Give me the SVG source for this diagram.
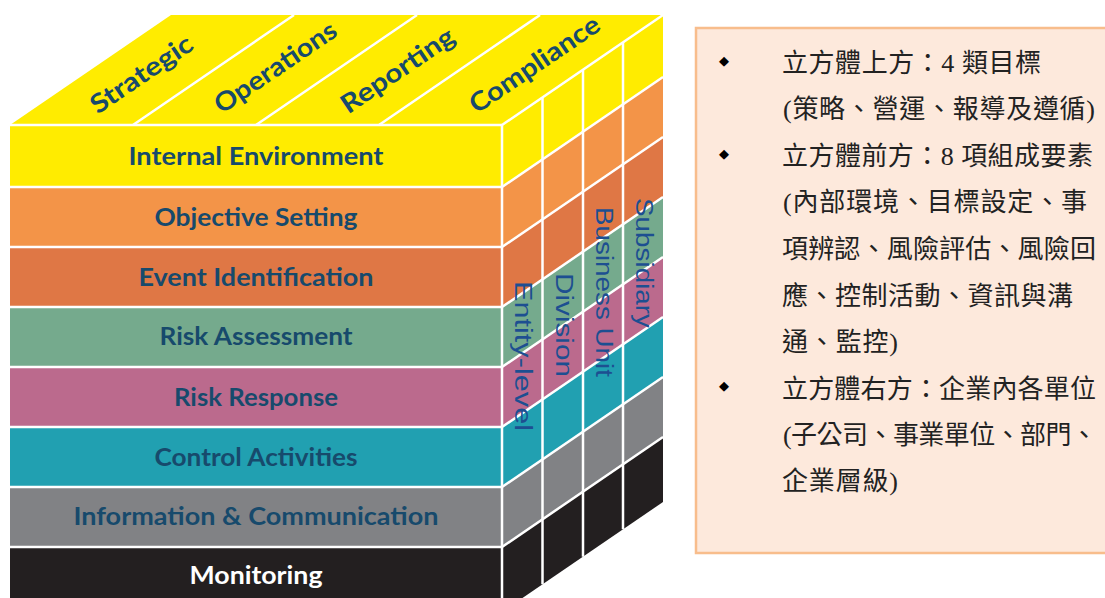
<svg xmlns="http://www.w3.org/2000/svg" width="1105" height="598" viewBox="0 0 1105 598">
<defs>
<style>
.sep{stroke:#ffffff;stroke-width:2.5;fill:none}
.l0{fill:#FFEC00}.l1{fill:#F39448}.l2{fill:#DF7745}.l3{fill:#75AA8D}
.l4{fill:#BB6A8D}.l5{fill:#21A0B1}.l6{fill:#818285}.l7{fill:#231F20}
.ft{font-family:Lato,"Open Sans",sans-serif;font-weight:bold;font-size:25px;fill:#174A6C;text-anchor:middle}
.tt{font-family:Lato,"Open Sans",sans-serif;font-weight:bold;font-size:26px;fill:#174A6C;text-anchor:middle}
.rt{font-family:"Liberation Sans",Arial,sans-serif;font-size:23px;fill:#1D4F91;text-anchor:middle}
.cj{font-family:"Liberation Serif","Noto Sans CJK TC",serif;font-size:26px;fill:#222222}
.bl{font-family:"DejaVu Sans",sans-serif;font-size:13px;fill:#000000;text-anchor:middle}
</style>
</defs>
<rect width="1105" height="598" fill="#ffffff"/>

<g id="cube-top">
<polygon class="l0" points="10,125 502,125 663,15 171,15"/>
<line class="sep" x1="133" y1="125" x2="294" y2="15"/>
<line class="sep" x1="256" y1="125" x2="417" y2="15"/>
<line class="sep" x1="379" y1="125" x2="540" y2="15"/>
<text class="tt" transform="translate(142,75) rotate(-34.2)" x="0" y="8" textLength="118" lengthAdjust="spacingAndGlyphs">Strategic</text>
<text class="tt" transform="translate(276,68) rotate(-34.2)" x="0" y="8" textLength="142" lengthAdjust="spacingAndGlyphs">Operations</text>
<text class="tt" transform="translate(398,71) rotate(-34.2)" x="0" y="8" textLength="131" lengthAdjust="spacingAndGlyphs">Reporting</text>
<text class="tt" transform="translate(535,65) rotate(-34.2)" x="0" y="8" textLength="152" lengthAdjust="spacingAndGlyphs">Compliance</text>
</g>

<g id="cube-front">
<g id="internal-environment"><rect class="l0" x="10" y="125" width="492" height="62"/><text class="ft" x="256" y="165" textLength="255" lengthAdjust="spacingAndGlyphs">Internal Environment</text></g>
<g id="objective-setting"><rect class="l1" x="10" y="187" width="492" height="60"/><text class="ft" x="256" y="226" textLength="203" lengthAdjust="spacingAndGlyphs">Objective Setting</text></g>
<g id="event-identification"><rect class="l2" x="10" y="247" width="492" height="60"/><text class="ft" x="256" y="286" textLength="235" lengthAdjust="spacingAndGlyphs">Event Identification</text></g>
<g id="risk-assessment"><rect class="l3" x="10" y="307" width="492" height="60"/><text class="ft" x="256" y="345" textLength="193" lengthAdjust="spacingAndGlyphs">Risk Assessment</text></g>
<g id="risk-response"><rect class="l4" x="10" y="367" width="492" height="60"/><text class="ft" x="256" y="406" textLength="164" lengthAdjust="spacingAndGlyphs">Risk Response</text></g>
<g id="control-activities"><rect class="l5" x="10" y="427" width="492" height="60"/><text class="ft" x="256" y="466" textLength="203" lengthAdjust="spacingAndGlyphs">Control Activities</text></g>
<g id="information-communication"><rect class="l6" x="10" y="487" width="492" height="60"/><text class="ft" x="256" y="525" textLength="365" lengthAdjust="spacingAndGlyphs">Information &amp; Communication</text></g>
<g id="monitoring"><rect class="l7" x="10" y="547" width="492" height="65"/><text class="ft" x="256" y="584" textLength="133" lengthAdjust="spacingAndGlyphs" style="fill:#ffffff">Monitoring</text></g>
<line class="sep" x1="10" y1="125" x2="502" y2="125"/>
<line class="sep" x1="10" y1="187" x2="502" y2="187"/>
<line class="sep" x1="10" y1="247" x2="502" y2="247"/>
<line class="sep" x1="10" y1="307" x2="502" y2="307"/>
<line class="sep" x1="10" y1="367" x2="502" y2="367"/>
<line class="sep" x1="10" y1="427" x2="502" y2="427"/>
<line class="sep" x1="10" y1="487" x2="502" y2="487"/>
<line class="sep" x1="10" y1="547" x2="502" y2="547"/>
</g>

<g id="cube-right">
<polygon class="l0" points="502,125 663,15 663,77 502,187"/>
<polygon class="l1" points="502,187 663,77 663,137 502,247"/>
<polygon class="l2" points="502,247 663,137 663,197 502,307"/>
<polygon class="l3" points="502,307 663,197 663,257 502,367"/>
<polygon class="l4" points="502,367 663,257 663,317 502,427"/>
<polygon class="l5" points="502,427 663,317 663,377 502,487"/>
<polygon class="l6" points="502,487 663,377 663,437 502,547"/>
<polygon class="l7" points="502,547 663,437 663,502 502,612"/>
<line class="sep" x1="502" y1="125" x2="663" y2="15"/>
<line class="sep" x1="502" y1="187" x2="663" y2="77"/>
<line class="sep" x1="502" y1="247" x2="663" y2="137"/>
<line class="sep" x1="502" y1="307" x2="663" y2="197"/>
<line class="sep" x1="502" y1="367" x2="663" y2="257"/>
<line class="sep" x1="502" y1="427" x2="663" y2="317"/>
<line class="sep" x1="502" y1="487" x2="663" y2="377"/>
<line class="sep" x1="502" y1="547" x2="663" y2="437"/>
<line class="sep" x1="502" y1="125" x2="502" y2="612"/>
<line class="sep" x1="542.5" y1="97.3" x2="542.5" y2="584.3"/>
<line class="sep" x1="583" y1="69.7" x2="583" y2="556.7"/>
<line class="sep" x1="623" y1="42.3" x2="623" y2="529.3"/>
<text class="rt" transform="translate(523,356) rotate(90)" x="0" y="8" textLength="150" lengthAdjust="spacingAndGlyphs">Entity-level</text>
<text class="rt" transform="translate(564,325) rotate(90)" x="0" y="8" textLength="104" lengthAdjust="spacingAndGlyphs">Division</text>
<text class="rt" transform="translate(604,292) rotate(90)" x="0" y="8" textLength="170" lengthAdjust="spacingAndGlyphs">Business Unit</text>
<text class="rt" transform="translate(644,263) rotate(90)" x="0" y="8" textLength="130" lengthAdjust="spacingAndGlyphs">Subsidiary</text>
</g>

<g id="legend">
<rect x="696" y="28" width="420" height="525" fill="#FDE9DC" stroke="#F8BD8C" stroke-width="2.5"/>
<text class="bl" x="724" y="65">◆</text>
<text class="bl" x="724" y="158">◆</text>
<text class="bl" x="724" y="390">◆</text>
<text class="cj" x="782" y="72" textLength="259">立方體上方：4 類目標</text>
<text class="cj" x="783" y="118" textLength="312">(策略、營運、報導及遵循)</text>
<text class="cj" x="782" y="165" textLength="311">立方體前方：8 項組成要素</text>
<text class="cj" x="783" y="211" textLength="304">(內部環境、目標設定、事</text>
<text class="cj" x="782" y="258" textLength="314">項辨認、風險評估、風險回</text>
<text class="cj" x="782" y="305" textLength="291">應、控制活動、資訊與溝</text>
<text class="cj" x="782" y="351" textLength="116">通、監控)</text>
<text class="cj" x="782" y="398" textLength="314">立方體右方：企業內各單位</text>
<text class="cj" x="783" y="444" textLength="314">(子公司、事業單位、部門、</text>
<text class="cj" x="782" y="490" textLength="116">企業層級)</text>
</g>
</svg>
